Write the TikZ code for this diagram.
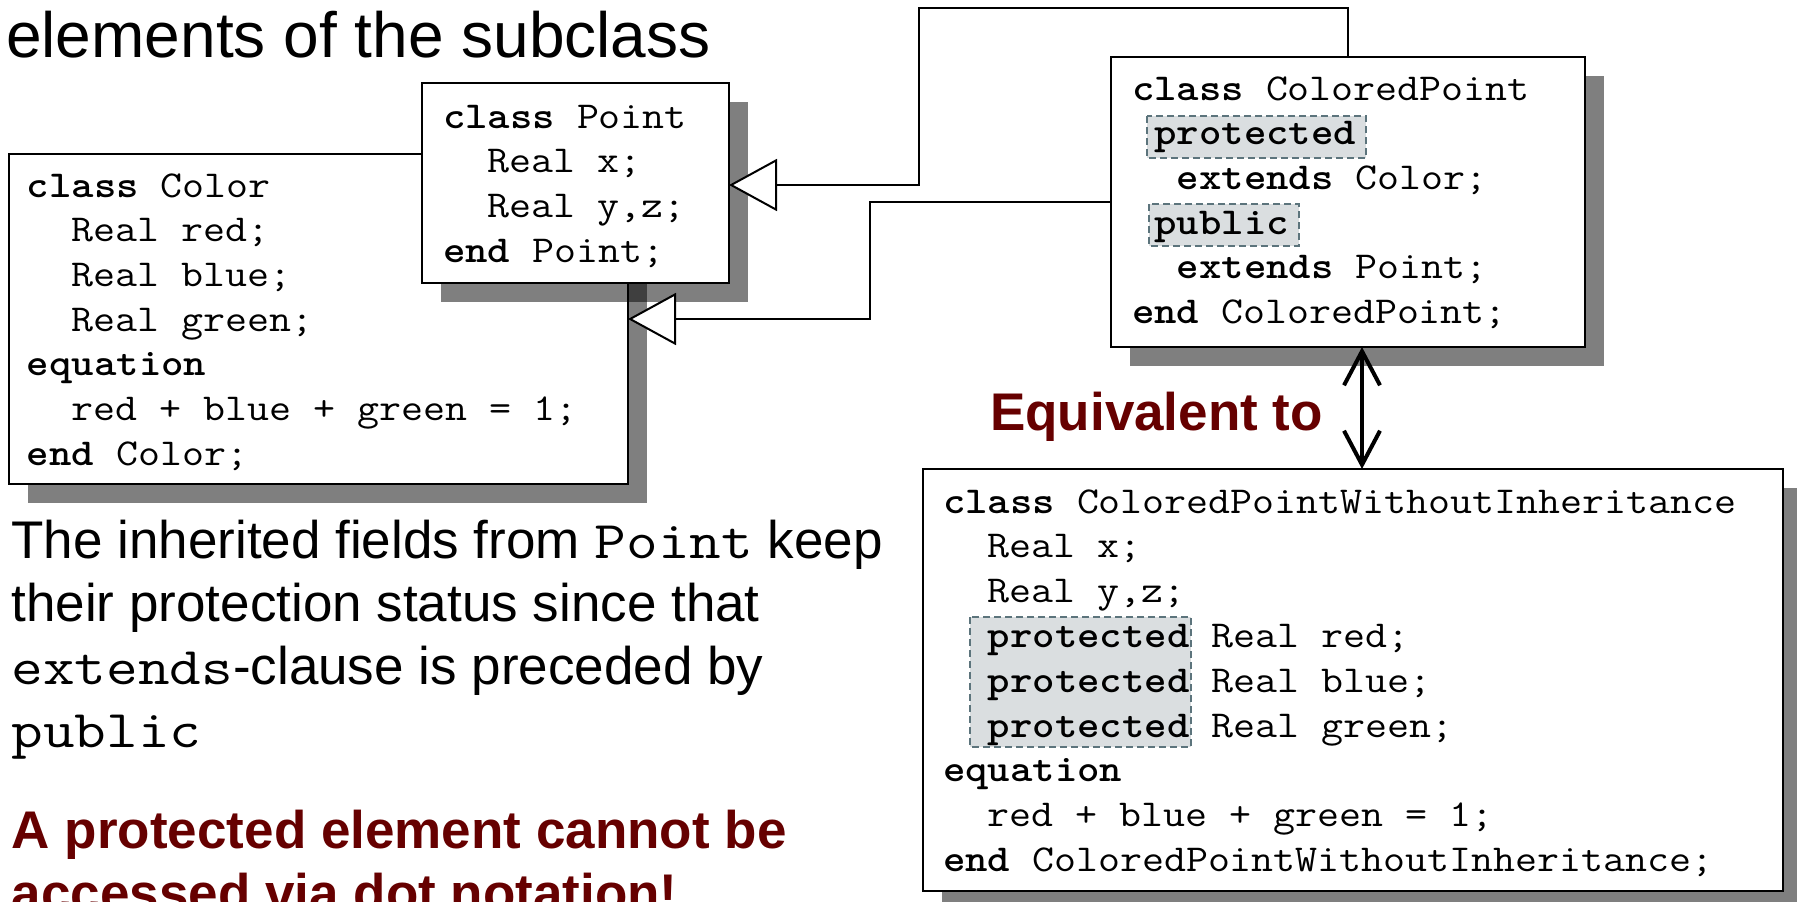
\documentclass[tikz,border=0pt]{standalone}
\usepackage{fontspec}
\setmainfont{Liberation Sans}
\usepackage{graphicx}
\usetikzlibrary{arrows.meta,shadows}
\definecolor{darkred}{RGB}{102,0,0}
\definecolor{hlfill}{RGB}{218,222,224}
\definecolor{hlline}{RGB}{92,116,124}
\newcommand\codefont{\fontsize{38}{44.7}\selectfont\ttfamily}
\newcommand\mystretch[1]{\scalebox{1.123}[1]{#1}}
\newcommand\pmono[1]{{\ttfamily\scalebox{1.16}[1]{#1}}}
\tikzset{
  box/.style={draw, line width=2pt, fill=white, inner sep=0pt, outer sep=0pt, anchor=north west,
    drop shadow={shadow xshift=19pt, shadow yshift=-19pt, fill=black, opacity=0.5}},
  code/.style={anchor=base west, inner sep=0pt, outer sep=0pt, font=\codefont},
  hl/.style={draw=hlline, fill=hlfill, line width=2.6pt, dash pattern=on 7pt off 4pt},
  inh/.style={line width=2pt, -{Triangle[length=48pt,width=52pt,fill=white]}},
  eqarrow/.style={line width=4pt, {Straight Barb[length=34pt,width=36pt]}-{Straight Barb[length=34pt,width=36pt]}},
  sans/.style={anchor=base west, inner sep=0pt, outer sep=0pt, font=\fontsize{53}{63}\selectfont},
  warn/.style={anchor=base west, inner sep=0pt, outer sep=0pt, text=darkred, font=\fontsize{53}{63}\selectfont\bfseries},
}
\begin{document}
\begin{tikzpicture}[x=1pt,y=-1pt]
\useasboundingbox (0,0) rectangle (1797,902);
\clip (0,0) rectangle (1797,902);

% title
\node[anchor=base west, inner sep=0pt, font=\fontsize{64}{70}\selectfont] (title) at (6,57) {elements of the subclass};

% Color box
\node[box, minimum width=619.4pt, minimum height=330pt] (color) at (8.6,154) {};
\node[code] (c1) at (27,197)   {\mystretch{\textbf{class} Color}};
\node[code] (c2) at (71.8,241.7) {\mystretch{Real red;}};
\node[code] (c3) at (71.8,286.4) {\mystretch{Real blue;}};
\node[code] (c4) at (71.8,331.1) {\mystretch{Real green;}};
\node[code] (c5) at (27,375.8) {\mystretch{\textbf{equation}}};
\node[code] (c6) at (71.8,420.5) {\mystretch{red + blue + green = 1;}};
\node[code] (c7) at (27,465.2) {\mystretch{\textbf{end} Color;}};

% Point box
\node[box, minimum width=307pt, minimum height=200pt] (point) at (422,83) {};
\node[code] (p1) at (443,128)   {\mystretch{\textbf{class} Point}};
\node[code] (p2) at (487.8,172.7) {\mystretch{Real x;}};
\node[code] (p3) at (487.8,217.4) {\mystretch{Real y,z;}};
\node[code] (p4) at (443,262.1) {\mystretch{\textbf{end} Point;}};

% ColoredPoint box
\node[box, minimum width=474.5pt, minimum height=290pt] (cp) at (1110.5,57) {};
\path[hl] (1147,116) rectangle (1366,158);
\path[hl] (1149,204) rectangle (1299,246);
\node[code] (k1) at (1132,100)   {\mystretch{\textbf{class} ColoredPoint}};
\node[code] (k2) at (1154.4,144.7) {\mystretch{\textbf{protected}}};
\node[code] (k3) at (1176.8,189.4) {\mystretch{\textbf{extends} Color;}};
\node[code] (k4) at (1154.4,234.1) {\mystretch{\textbf{public}}};
\node[code] (k5) at (1176.8,278.8) {\mystretch{\textbf{extends} Point;}};
\node[code] (k6) at (1132,323.5) {\mystretch{\textbf{end} ColoredPoint;}};

% bottom box
\node[box, minimum width=860pt, minimum height=422pt] (bot) at (923,469) {};
\path[hl] (970,617) rectangle (1191,747);
\node[code] (b1) at (943,513)   {\mystretch{\textbf{class} ColoredPointWithoutInheritance}};
\node[code] (b2) at (987.8,557.8) {\mystretch{Real x;}};
\node[code] (b3) at (987.8,602.6) {\mystretch{Real y,z;}};
\node[code] (b4) at (987.8,647.4) {\mystretch{\textbf{protected} Real red;}};
\node[code] (b5) at (987.8,692.2) {\mystretch{\textbf{protected} Real blue;}};
\node[code] (b6) at (987.8,737) {\mystretch{\textbf{protected} Real green;}};
\node[code] (b7) at (943,781.8) {\mystretch{\textbf{equation}}};
\node[code] (b8) at (987.8,826.6) {\mystretch{red + blue + green = 1;}};
\node[code] (b9) at (943,871.4) {\mystretch{\textbf{end} ColoredPointWithoutInheritance;}};

% connectors
\coordinate (a1) at (1348,8);
\coordinate (a2) at (919,185);
\draw[inh] (cp.north -| a1) |- (a2 |- a1) |- (point.east |- a2);
\coordinate (q1) at (870,202);
\coordinate (q2) at (0,319);
\draw[inh] (cp.west |- q1) -- (q1) |- (color.east |- q2);
\coordinate (d) at (1362,0);
\draw[eqarrow] (cp.south -| d) -- (bot.north -| d);

% texts
\node[anchor=base west, inner sep=0pt, text=darkred, font=\fontsize{53}{63}\selectfont\bfseries] (eq) at (990,430) {Equivalent to};
\node[sans] (t1) at (11.5,558) {The inherited fields from \pmono{Point} keep};
\node[sans] (t2) at (11.5,621) {their protection status since that};
\node[sans] (t3) at (11.5,684) {\pmono{extends}-clause is preceded by};
\node[sans] (t4) at (11.5,747) {\pmono{public}};
\node[warn] (w1) at (12,848) {A protected element cannot be};
\node[warn] (w2) at (12,911) {accessed via dot notation!};
\end{tikzpicture}
\end{document}
